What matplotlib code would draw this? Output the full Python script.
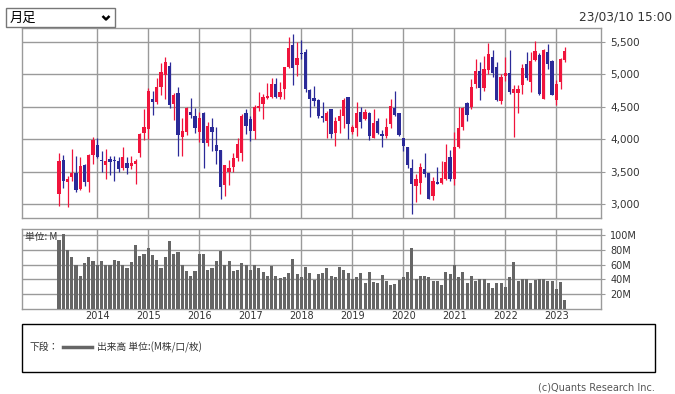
import matplotlib
matplotlib.use("Agg")
import matplotlib.pyplot as plt
from matplotlib.patches import Rectangle
import numpy as np

# monthly candles, 2013-04 .. 2023-03
opens = [3159, 3676, 3350, 3415, 3476, 3230, 3604, 3338, 3758, 3912,
         3678, 3604, 3702, 3686, 3671, 3553, 3640, 3584, 3625, 3784,
         4091, 4153, 4614, 4578, 4798, 4988, 5126, 4542, 4706, 4040,
         4117, 4414, 4363, 4107, 4399, 3938, 4183, 3912, 3830, 3297,
         3502, 3574, 3707, 3784, 4399, 4311, 4132, 4475, 4542, 4629,
         4644, 4844, 4644, 4767, 5105, 5449, 5141, 5331, 5336, 4757,
         4629, 4603, 4358, 4281, 4460, 4091, 4281, 4358, 4644, 4107,
         4178, 4424, 4306, 4409, 4025, 4286, 4076, 4050, 4235, 4475,
         4399, 4014, 3876, 3553, 3282, 3333, 3538, 3476, 3128, 3338,
         3333, 3389, 3722, 3389, 3886, 4183, 4552, 4491, 4849, 5049,
         4783, 5064, 5269, 5105, 4588, 4977, 5013, 4716, 4706, 4834,
         5151, 4885, 5218, 5295, 4619, 5346, 5208, 4603, 4885, 5218]
highs = [3784, 3753, 3440, 3845, 3738, 3727, 3614, 3770, 4030, 4014,
         3820, 3845, 3738, 3738, 3727, 3886, 3727, 3738, 3692, 4091,
         4465, 4783, 4742, 4936, 5177, 5269, 5182, 4706, 4808, 4320,
         4491, 4629, 4475, 4414, 4414, 4270, 4332, 4194, 3840, 3610,
         3681, 3794, 4025, 4383, 4460, 4363, 4527, 4721, 4691, 4860,
         4936, 4936, 4885, 5110, 5567, 5618, 5500, 5526, 5387, 4767,
         4824, 4619, 4568, 4434, 4465, 4347, 4460, 4639, 4655, 4219,
         4568, 4501, 4460, 4415, 4460, 4322, 4142, 4332, 4619, 4742,
         4405, 4020, 3880, 3692, 3466, 3640, 3784, 3480, 3425, 3569,
         3671, 3922, 3835, 4117, 4501, 4501, 4568, 4921, 5228, 5182,
         5280, 5474, 5372, 5182, 5000, 5269, 5372, 4834, 4834, 5151,
         5346, 5346, 5515, 5321, 5387, 5459, 5215, 4911, 5254, 5413]
lows = [2974, 3246, 2955, 3359, 3195, 3220, 3277, 3195, 3620, 3707,
        3502, 3389, 3451, 3353, 3500, 3528, 3466, 3543, 3307, 3722,
        3989, 3999, 4373, 4542, 4680, 4619, 4486, 4296, 3743, 3743,
        4066, 4332, 4101, 3953, 3553, 3902, 3820, 3615, 3077, 3128,
        3297, 3502, 3671, 3671, 4081, 3973, 4004, 4434, 4311, 4614,
        4639, 4629, 4614, 4619, 5100, 4834, 4977, 5228, 4721, 4347,
        4516, 4322, 4270, 4014, 4014, 3896, 4091, 4168, 4004, 4076,
        4055, 4178, 4296, 3989, 4014, 4076, 3876, 4014, 4178, 4358,
        4055, 3820, 3553, 2851, 3041, 3159, 3425, 3077, 3067, 3310,
        3307, 3374, 3364, 3297, 3860, 4142, 4281, 4465, 4783, 4603,
        4742, 5000, 4952, 4593, 4542, 4895, 4696, 4040, 4409, 4691,
        4911, 4732, 5208, 4685, 4615, 5080, 4675, 4527, 4773, 5193]
closes = [3671, 3358, 3390, 3476, 3215, 3584, 3338, 3758, 3989, 3733,
          3668, 3666, 3651, 3666, 3543, 3733, 3563, 3630, 3661, 4076,
          4194, 4742, 4573, 4808, 5029, 5182, 4527, 4680, 4066, 4132,
          4475, 4373, 4168, 4332, 3938, 4209, 4107, 3820, 3266, 3604,
          3553, 3707, 3922, 4363, 4204, 4132, 4491, 4511, 4655, 4665,
          4844, 4644, 4721, 5105, 5398, 5090, 5244, 5305, 4773, 4619,
          4588, 4358, 4332, 4399, 4076, 4286, 4363, 4603, 4229, 4194,
          4399, 4260, 4414, 4050, 4245, 4091, 4050, 4183, 4516, 4373,
          4066, 3896, 3604, 3312, 3384, 3579, 3466, 3082, 3364, 3312,
          3400, 3645, 3389, 3876, 4168, 4475, 4373, 4808, 5054, 4783,
          5075, 5305, 5024, 4603, 4952, 5013, 4721, 4767, 4767, 5090,
          4936, 5203, 5362, 4691, 5372, 5151, 4680, 4844, 5228, 5362]
volumes = [94, 101, 80, 70, 60, 45, 62, 70, 65, 60,
           65, 60, 60, 66, 65, 60, 56, 63, 87, 72,
           75, 82, 73, 66, 55, 70, 92, 75, 77, 60,
           51, 45, 51, 74, 74, 53, 56, 65, 79, 60,
           65, 51, 53, 62, 60, 53, 60, 55, 50, 45,
           58, 45, 42, 43, 48, 68, 47, 43, 57, 48,
           39, 47, 48, 56, 45, 43, 57, 53, 48, 40,
           43, 48, 35, 50, 36, 35, 46, 38, 32, 34,
           39, 43, 50, 82, 41, 45, 45, 43, 38, 38,
           32, 50, 47, 60, 43, 50, 35, 45, 38, 41,
           41, 35, 28, 35, 35, 30, 43, 64, 38, 41,
           40, 35, 39, 41, 40, 38, 37, 27, 36, 12]
years = ['2014', '2015', '2016', '2017', '2018',
         '2019', '2020', '2021', '2022', '2023']
price_ticks = [3000, 3500, 4000, 4500, 5000, 5500]
vol_ticks = [20, 40, 60, 80, 100]

W, H = 675, 394
fig = plt.figure(figsize=(W / 100, H / 100), dpi=100)


def rect(x0, y0, x1, y1):
    return [x0 / W, 1 - y1 / H, (x1 - x0) / W, (y1 - y0) / H]


UP = '#f0143c'
DOWN = '#2b2a98'
GRID = '#9a9a9a'
TXT = '#333333'

months = np.arange(len(opens))
jan = np.arange(9, len(opens), 12)
o = np.array(opens)
c = np.array(closes)
colors = [UP if cc >= oo else DOWN for oo, cc in zip(o, c)]

# price panel
ax = fig.add_axes(rect(22.3, 28.3, 600.5, 218.3))
ax.vlines(months, lows, highs, colors=colors, linewidth=0.9, zorder=3)
ax.bar(months, np.maximum(np.abs(c - o), 10), bottom=np.minimum(o, c),
       width=0.76, color=colors, linewidth=0, zorder=4)
ax.set_xlim(-8.64, 127.4)
ax.set_ylim(2785, 5703)
ax.set_xticks(jan)
ax.set_xticklabels([])
ax.set_yticks(price_ticks)
ax.set_yticklabels([f"{v:,}" for v in price_ticks])
ax.yaxis.tick_right()
ax.tick_params(axis='x', length=0)
ax.tick_params(axis='y', length=3, color=GRID, pad=4, labelsize=7.5,
               labelcolor=TXT)
ax.grid(color=GRID, linewidth=1.0)
ax.set_axisbelow(True)
for s in ax.spines.values():
    s.set_color(GRID)
    s.set_linewidth(1.0)

# volume panel
av = fig.add_axes(rect(22.3, 229.3, 600.5, 308.7))
av.bar(months, volumes, width=0.72, color='#666666', linewidth=0, zorder=3)
av.set_xlim(-8.64, 127.4)
av.set_ylim(0, 108)
av.set_xticks(jan)
av.set_xticklabels(years)
av.set_yticks(vol_ticks)
av.set_yticklabels([f"{v}M" for v in vol_ticks])
av.yaxis.tick_right()
av.tick_params(axis='x', length=0, pad=2, labelsize=7, labelcolor=TXT)
av.tick_params(axis='y', length=3, color=GRID, pad=4, labelsize=7,
               labelcolor=TXT)
av.grid(color=GRID, linewidth=1.0)
av.set_axisbelow(True)
for s in av.spines.values():
    s.set_color(GRID)
    s.set_linewidth(1.0)

# overlay for header, legend box and notes
ov = fig.add_axes([0, 0, 1, 1])
ov.set_xlim(0, W)
ov.set_ylim(H, 0)
ov.axis('off')
ov.patch.set_visible(False)

jp = ['Noto Sans CJK JP', 'DejaVu Sans']

ov.add_patch(Rectangle((6, 8.3), 109, 19, facecolor='white',
                       edgecolor='#777777', linewidth=1.0))
ov.text(10, 18, "月足", family=jp, fontsize=9.5, va='center', color='black')
ov.plot([102.5, 106, 109.5], [16, 19.5, 16], color='black', linewidth=1.8,
        solid_capstyle='butt')
ov.text(672, 17, "23/03/10 15:00", ha='right', va='center', fontsize=8.7,
        color=TXT)

ov.text(25, 237, "単位: M", family=jp, fontsize=7, va='center', color=TXT)

ov.add_patch(Rectangle((22.4, 324), 632.6, 48, facecolor='none',
                       edgecolor='black', linewidth=1.0))
ov.text(30, 347, "下段：", family=jp, fontsize=7, va='center', color=TXT)
ov.plot([63, 92], [347, 347], color='#666666', linewidth=2.5)
ov.text(97, 347, "出来高 単位:(M株/口/枚)", family=jp, fontsize=7,
        va='center', color=TXT)
ov.text(655, 387, "(c)Quants Research Inc.", ha='right', va='center',
        fontsize=7, color='#555555')

fig.savefig("out.png", dpi=100)
